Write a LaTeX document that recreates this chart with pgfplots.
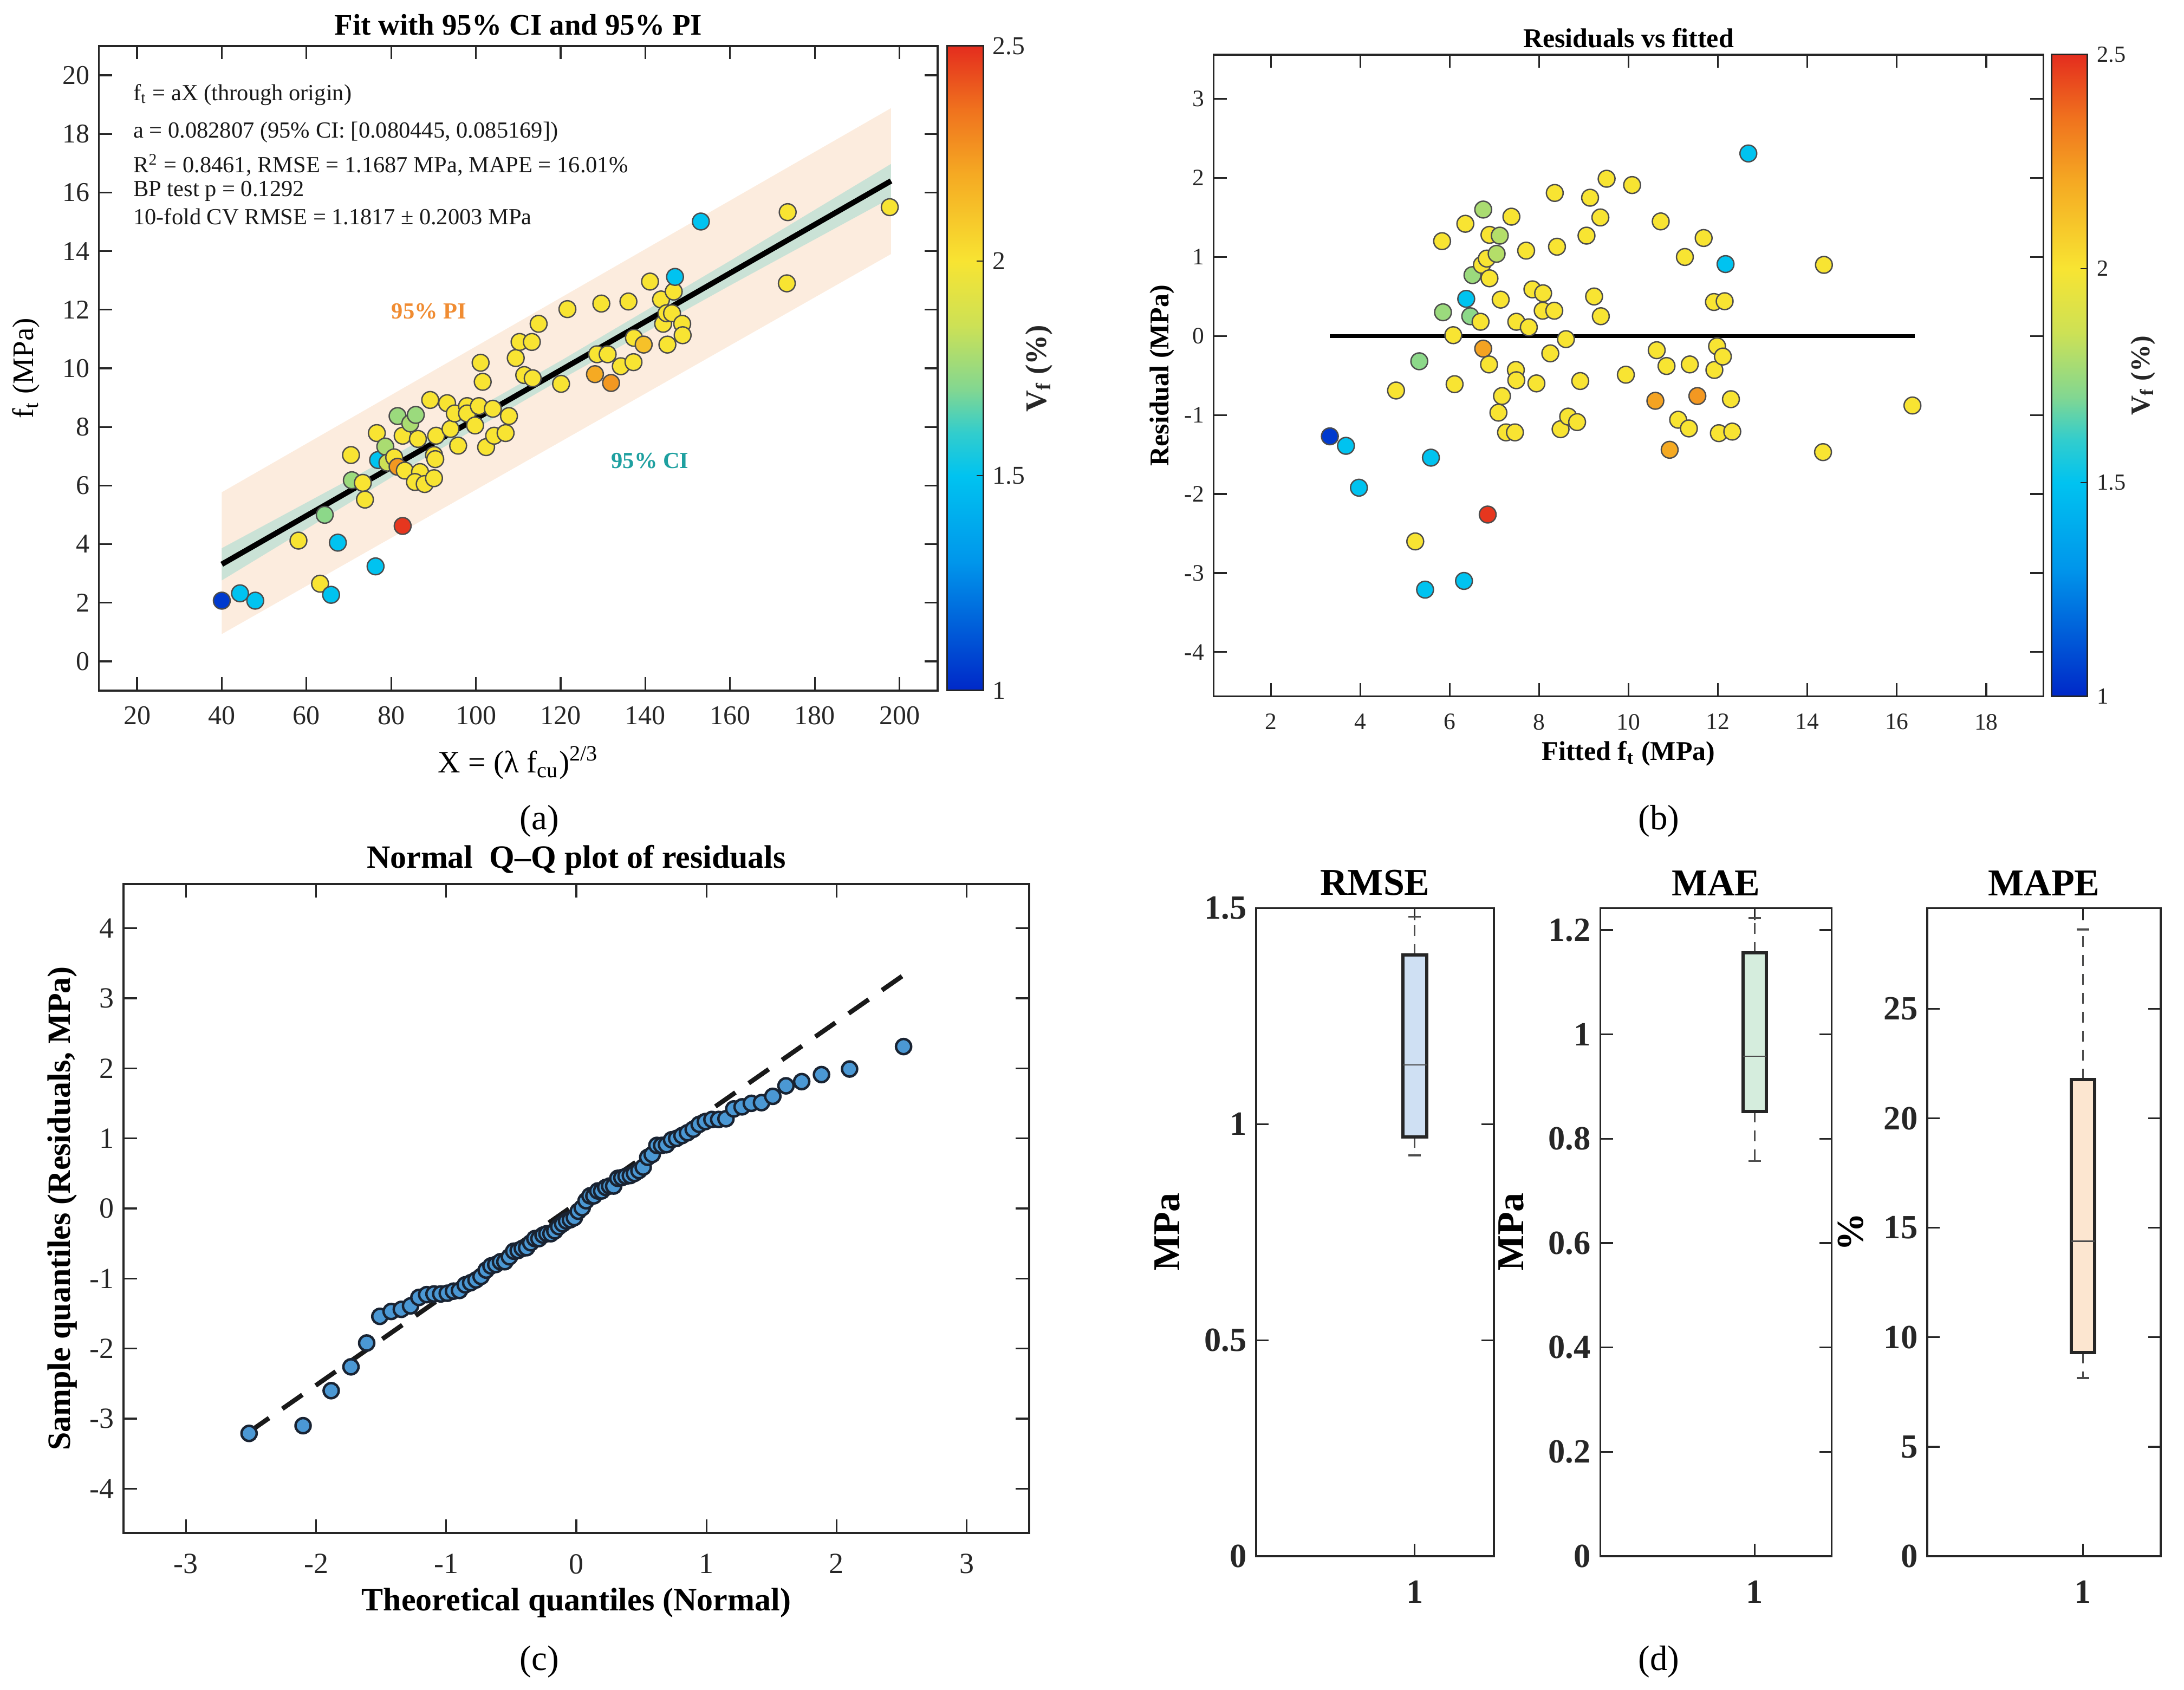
\documentclass[border=0pt]{standalone}
\usepackage{fontspec}
\setmainfont{Liberation Serif}
\usepackage{pgfplots}
\usepackage{pgfplotstable}
\pgfplotsset{compat=1.18}
\usepgfplotslibrary{statistics}
\pgfplotsset{/pgf/number format/assume math mode=true}

\definecolor{axgray}{RGB}{38,38,38}
\definecolor{pifill}{RGB}{252,236,222}
\definecolor{cifill}{RGB}{202,226,214}
\definecolor{pitext}{RGB}{240,140,50}
\definecolor{citext}{RGB}{30,160,160}
\definecolor{qqfill}{RGB}{75,152,212}
\definecolor{qqedge}{RGB}{25,35,50}
\definecolor{rmsefill}{RGB}{207,224,243}
\definecolor{maefill}{RGB}{213,237,221}
\definecolor{mapefill}{RGB}{252,230,208}

\newcommand{\fs}[1]{\fontsize{#1}{#1}\selectfont}

\pgfplotsset{
  colormap={vfmap}{[1pt] rgb255(0pt)=(0,40,200); rgb255(6pt)=(0,150,235); rgb255(10pt)=(0,195,240); rgb255(12pt)=(50,205,205); rgb255(14pt)=(130,215,145); rgb255(17pt)=(205,225,85); rgb255(20pt)=(248,228,50); rgb255(24pt)=(245,170,35); rgb255(27pt)=(240,115,30); rgb255(30pt)=(228,45,30)},
  mybase/.style={
    scale only axis,
    axis line style={line width=0.65pt, draw=axgray},
    every tick/.style={line width=0.65pt, draw=axgray},
    major tick length=4.9pt,
    tick align=inside,
    minor tick num=0,
    ticklabel style={text=axgray},
    clip=false,
  },
}

\pgfplotstableread{
x y c
40.0 2.07 1.05
44.3 2.32 1.5
47.9 2.07 1.5
58.1 4.12 2.0
63.2 2.65 2.0
64.3 5.00 1.72
65.8 2.27 1.5
67.4 4.05 1.5
70.5 7.04 2.0
70.7 6.18 1.75
73.3 6.09 2.0
73.8 5.52 2.0
76.3 3.24 1.5
76.6 7.79 2.0
76.9 6.87 1.5
78.6 7.33 1.78
79.1 6.78 1.85
80.7 6.96 2.0
81.5 6.64 2.25
81.5 8.37 1.75
82.7 4.62 2.48
82.7 7.70 2.0
83.2 6.51 2.0
84.5 8.12 1.78
85.8 8.41 1.75
86.3 7.59 2.0
86.8 6.46 2.0
85.6 6.12 2.0
87.9 6.05 2.0
89.2 8.92 2.0
90.1 7.04 2.0
90.1 6.25 2.0
90.6 7.70 2.0
90.4 6.90 2.0
93.2 8.81 2.0
94.0 7.93 2.0
95.0 8.46 2.0
95.8 7.36 2.0
97.9 8.71 2.0
97.9 8.46 2.0
99.8 8.05 2.0
100.7 8.71 2.0
101.1 10.19 2.0
101.6 9.54 2.0
102.4 7.31 2.0
104.0 8.62 2.0
104.3 7.70 2.0
107.0 7.79 2.0
107.8 8.37 2.0
109.4 10.35 2.0
110.3 10.90 2.0
111.4 9.77 2.0
113.2 10.90 2.0
113.4 9.66 2.0
114.8 11.52 2.0
120.1 9.47 2.0
121.6 12.02 2.0
128.1 9.80 2.2
128.6 10.48 2.0
129.6 12.21 2.0
131.1 10.48 2.0
131.9 9.50 2.25
134.2 10.07 2.0
136.0 12.28 2.0
137.2 10.21 2.0
137.3 11.04 2.0
139.6 10.81 2.12
141.1 12.96 2.0
143.7 12.35 2.0
144.2 11.52 2.0
145.0 11.88 2.0
145.2 10.81 2.0
146.3 11.88 2.0
146.7 12.62 2.0
147.0 13.12 1.5
148.7 11.52 2.0
148.8 11.13 2.0
153.1 15.01 1.5
173.4 12.90 2.0
173.6 15.33 2.0
197.7 15.50 2.0
}\dataA

\pgfplotstableread{
x y c
3.32 -1.27 1.05
3.68 -1.39 1.5
3.97 -1.92 1.5
4.80 -0.69 2.0
5.23 -2.60 2.0
5.32 -0.32 1.72
5.45 -3.21 1.5
5.58 -1.54 1.5
5.83 1.20 2.0
5.85 0.30 1.75
6.08 0.01 2.0
6.11 -0.61 2.0
6.32 -3.10 1.5
6.35 1.42 2.0
6.37 0.47 1.5
6.46 0.25 1.72
6.51 0.77 1.75
6.69 0.18 2.0
6.72 0.90 2.0
6.75 1.60 1.78
6.75 -0.16 2.22
6.83 0.98 2.0
6.85 -2.26 2.48
6.88 -0.36 2.0
6.89 1.28 2.0
6.89 0.73 2.0
7.05 1.04 1.8
7.09 -0.97 2.0
7.12 1.27 1.8
7.14 0.46 2.0
7.17 -0.76 2.0
7.26 -1.22 2.0
7.38 1.51 2.0
7.46 -1.22 2.0
7.48 -0.43 2.0
7.49 -0.56 2.0
7.49 0.18 2.0
7.71 1.08 2.0
7.77 0.11 2.0
7.85 0.59 2.0
7.94 -0.60 2.0
8.09 0.54 2.0
8.08 0.32 2.0
8.25 -0.22 2.0
8.34 0.32 2.0
8.35 1.81 2.0
8.40 1.13 2.0
8.48 -1.18 2.0
8.60 -0.04 2.0
8.65 -1.02 2.0
8.85 -1.09 2.0
8.92 -0.57 2.0
9.06 1.27 2.0
9.14 1.75 2.0
9.23 0.50 2.0
9.37 1.50 2.0
9.38 0.25 2.0
9.51 1.99 2.0
9.94 -0.49 2.0
10.08 1.91 2.0
10.60 -0.82 2.22
10.63 -0.18 2.0
10.72 1.45 2.0
10.85 -0.38 2.0
10.92 -1.44 2.2
11.11 -1.06 2.0
11.26 1.00 2.0
11.37 -0.36 2.0
11.35 -1.17 2.0
11.54 -0.76 2.25
11.68 1.24 2.0
11.91 0.43 2.0
11.92 -0.43 2.0
11.98 -0.13 2.0
12.02 -1.23 2.0
12.11 -0.26 2.0
12.15 0.44 2.0
12.17 0.91 1.5
12.29 -0.80 2.0
12.32 -1.21 2.0
12.68 2.31 1.5
14.37 0.90 2.0
14.35 -1.47 2.0
16.35 -0.88 2.0
}\dataB

\pgfplotstableread{
z r
-2.515 -3.21
-2.100 -3.10
-1.884 -2.60
-1.732 -2.26
-1.611 -1.92
-1.510 -1.54
-1.423 -1.47
-1.345 -1.44
-1.274 -1.39
-1.210 -1.27
-1.150 -1.23
-1.094 -1.22
-1.042 -1.22
-0.992 -1.21
-0.944 -1.18
-0.898 -1.17
-0.854 -1.09
-0.812 -1.06
-0.771 -1.02
-0.732 -0.97
-0.693 -0.88
-0.656 -0.82
-0.619 -0.80
-0.583 -0.76
-0.549 -0.76
-0.514 -0.69
-0.481 -0.61
-0.447 -0.60
-0.415 -0.57
-0.382 -0.56
-0.350 -0.49
-0.319 -0.43
-0.287 -0.43
-0.256 -0.38
-0.226 -0.36
-0.195 -0.36
-0.165 -0.32
-0.135 -0.26
-0.105 -0.22
-0.075 -0.18
-0.045 -0.16
-0.015 -0.13
0.015 -0.04
0.045 0.01
0.075 0.11
0.105 0.18
0.135 0.18
0.165 0.25
0.195 0.25
0.226 0.30
0.256 0.32
0.287 0.32
0.319 0.43
0.350 0.44
0.382 0.46
0.415 0.47
0.447 0.50
0.481 0.54
0.514 0.59
0.549 0.73
0.583 0.77
0.619 0.90
0.656 0.90
0.693 0.91
0.732 0.98
0.771 1.00
0.812 1.04
0.854 1.08
0.898 1.13
0.944 1.20
0.992 1.24
1.042 1.27
1.094 1.27
1.150 1.28
1.210 1.42
1.274 1.45
1.345 1.50
1.423 1.51
1.510 1.60
1.611 1.75
1.732 1.81
1.884 1.91
2.100 1.99
2.515 2.31
}\dataC

\begin{document}
\begin{tikzpicture}
\path[use as bounding box] (0,0) rectangle (806.4pt,624pt);

% ---------------- (a) ----------------
\begin{axis}[mybase,
  at={(36.54pt,369pt)}, anchor=south west,
  width=309.66pt, height=238pt,
  xmin=11, xmax=209, ymin=-1, ymax=21,
  xtick={20,40,...,200}, ytick={0,2,...,20},
  ticklabel style={font=\fs{10}},
  xticklabel style={yshift=-2.3pt},
  title={Fit with 95\% CI and 95\% PI},
  title style={font=\fs{11}\bfseries, at={(axis description cs:0.5,1.0328)}, anchor=center, yshift=-6pt},
  xlabel={X = (λ f\textsubscript{cu})\textsuperscript{2/3}},
  xlabel style={font=\fs{11.5}, at={(axis description cs:0.5,-0.1122)}, anchor=center},
  ylabel={f\textsubscript{t} (MPa)},
  ylabel style={font=\fs{11}, at={(axis description cs:-0.0867,0.5)}, anchor=center},
  colormap name=vfmap,
  point meta min=1, point meta max=2.5,
  colorbar,
  colorbar style={
    scale only axis, width=13.4pt, height=238pt,
    at={(parent axis.north east)}, anchor=north west, xshift=-5.08pt,
    ytick={1,1.5,2,2.5},
    ytick pos=right, yticklabel pos=right,
    tick align=inside,
    yticklabel style={font=\fs{9.5}, text=axgray},
    major tick length=2.5pt,
    every tick/.style={line width=0.4pt, draw=axgray},
    axis line style={line width=0.6pt, draw=axgray},
  },
]
\addplot[fill=pifill, draw=none] coordinates {(40,0.93) (198,13.90) (198,18.88) (40,5.77)} -- cycle;
\addplot[fill=cifill, draw=none] coordinates {(40,3.86) (80,6.975) (120,10.257) (160,13.669) (198,16.976) (198,15.816) (160,12.829) (120,9.617) (80,6.275) (40,2.762)} -- cycle;
\addplot[black, line width=2pt] coordinates {(40,3.312) (198,16.396)};
\addplot[scatter, only marks, mark=*, mark size=3.1pt, scatter src=explicit,
  scatter/use mapped color={draw=black!70, fill=mapped color},
  mark options={line width=0.5pt}] table[x=x,y=y,meta=c]{\dataA};
\node[anchor=west, inner sep=0pt, font=\fs{8.5}, text=black!90] at (axis cs:19,19.33) {f\textsubscript{t} = aX (through origin)};
\node[anchor=west, inner sep=0pt, font=\fs{8.5}, text=black!90] at (axis cs:19,18.05) {a = 0.082807 (95\% CI: [0.080445, 0.085169])};
\node[anchor=west, inner sep=0pt, font=\fs{8.5}, text=black!90] at (axis cs:19,16.94) {R\textsuperscript{2} = 0.8461, RMSE = 1.1687 MPa, MAPE = 16.01\%};
\node[anchor=west, inner sep=0pt, font=\fs{8.5}, text=black!90] at (axis cs:19,16.05) {BP test p = 0.1292};
\node[anchor=west, inner sep=0pt, font=\fs{8.5}, text=black!90] at (axis cs:19,15.17) {10-fold CV RMSE = 1.1817 ± 0.2003 MPa};
\node[font=\fs{8.5}\bfseries, text=pitext] at (axis cs:88.9,11.94) {95\% PI};
\node[font=\fs{8.5}\bfseries, text=citext] at (axis cs:141.1,6.84) {95\% CI};
\node[rotate=90, font=\fs{11}\bfseries, text=axgray] at (axis description cs:1.1208,0.5) {V\textsubscript{f} (\%)};
\end{axis}

% ---------------- (b) ----------------
\begin{axis}[mybase,
  at={(448.1pt,366.9pt)}, anchor=south west,
  width=306.4pt, height=236.9pt,
  xmin=0.72, xmax=19.28, ymin=-4.56, ymax=3.56,
  xtick={2,4,...,18}, ytick={-4,-3,...,3},
  ticklabel style={font=\fs{8.7}},
  xticklabel style={yshift=-3pt},
  title={Residuals vs fitted},
  title style={font=\fs{10}\bfseries, at={(axis description cs:0.5,1.0262)}, anchor=center, yshift=-6pt},
  xlabel={Fitted f\textsubscript{t} (MPa)},
  xlabel style={font=\fs{10}\bfseries, at={(axis description cs:0.5,-0.0891)}, anchor=center},
  ylabel={Residual (MPa)},
  ylabel style={font=\fs{10}\bfseries, at={(axis description cs:-0.0623,0.5)}, anchor=center},
  colormap name=vfmap,
  point meta min=1, point meta max=2.5,
  colorbar,
  colorbar style={
    scale only axis, width=13.2pt, height=236.9pt,
    at={(parent axis.north east)}, anchor=north west, xshift=-5.54pt,
    ytick={1,1.5,2,2.5},
    ytick pos=right, yticklabel pos=right,
    tick align=inside,
    yticklabel style={font=\fs{8.5}, text=axgray},
    major tick length=2.5pt,
    every tick/.style={line width=0.4pt, draw=axgray},
    axis line style={line width=0.6pt, draw=axgray},
  },
]
\addplot[black, line width=1.3pt] coordinates {(3.32,0) (16.40,0)};
\addplot[scatter, only marks, mark=*, mark size=3.1pt, scatter src=explicit,
  scatter/use mapped color={draw=black!70, fill=mapped color},
  mark options={line width=0.5pt}] table[x=x,y=y,meta=c]{\dataB};
\node[rotate=90, font=\fs{10}\bfseries, text=axgray] at (axis description cs:1.1198,0.5) {V\textsubscript{f} (\%)};
\end{axis}

% ---------------- (c) ----------------
\begin{axis}[mybase,
  at={(45.6pt,58pt)}, anchor=south west,
  width=334.4pt, height=239.6pt,
  xmin=-3.48, xmax=3.48, ymin=-4.63, ymax=4.63,
  xtick={-3,-2,...,3}, ytick={-4,-3,...,4},
  ticklabel style={font=\fs{10.8}},
  xticklabel style={yshift=-4.3pt},
  title={Normal\ \ Q–Q plot of residuals},
  title style={font=\fs{12}\bfseries, at={(axis description cs:0.5,1.0367)}, anchor=center, yshift=-6pt},
  xlabel={Theoretical quantiles (Normal)},
  xlabel style={font=\fs{12}\bfseries, at={(axis description cs:0.5,-0.1077)}, anchor=center},
  ylabel={Sample quantiles (Residuals, MPa)},
  ylabel style={font=\fs{12}\bfseries, at={(axis description cs:-0.0676,0.5)}, anchor=center},
]
\addplot[black!90, line width=1.7pt, dash pattern=on 9pt off 6pt] coordinates {(-2.515,-3.19) (2.515,3.33)};
\addplot[only marks, mark=*, mark size=2.8pt, mark options={fill=qqfill, draw=qqedge, line width=0.9pt}] table[x=z,y=r]{\dataC};
\end{axis}

% ---------------- (d) ----------------
\pgfplotsset{
  boxax/.style={mybase,
    anchor=south west, height=239.3pt,
    xmin=0, xmax=1.5, ymin=0,
    xtick={1},
    major tick length=4.6pt,
    ticklabel style={font=\fs{12.5}\bfseries},
    xticklabel style={yshift=-5.5pt},
    title style={font=\fs{14}\bfseries, at={(axis description cs:0.5,1.0389)}, anchor=center, yshift=-6pt},
    ylabel style={font=\fs{14}\bfseries, anchor=center},
  },
  boxst/.style={draw=axgray, line width=1.2pt,
    boxplot/draw direction=y,
    boxplot/every median/.style={line width=0.5pt, draw=black!70},
    boxplot/every whisker/.style={line width=0.6pt, draw=black!70, dash pattern=on 4pt off 3pt}},
  capst/.style={black!70, line width=0.7pt},
}
\begin{axis}[boxax,
  at={(463.8pt,49.4pt)}, width=87.8pt,
  ymax=1.5, ytick={0,0.5,1,1.5},
  title={RMSE},
  ylabel={MPa}, ylabel style={at={(axis description cs:-0.3736,0.5)}},
]
\addplot[boxst, fill=rmsefill, boxplot prepared={median=1.137, upper quartile=1.392, lower quartile=0.970, upper whisker=1.480, lower whisker=0.928, draw position=1, box extend=0.15, whisker extend=0}] coordinates {};
\addplot[capst] coordinates {(0.96,1.480) (1.04,1.480)};
\addplot[capst] coordinates {(0.96,0.928) (1.04,0.928)};
\end{axis}

\begin{axis}[boxax,
  at={(590.9pt,49.4pt)}, width=85.4pt,
  ymax=1.242, ytick={0,0.2,...,1.2},
  title={MAE},
  ylabel={MPa}, ylabel style={at={(axis description cs:-0.385,0.5)}},
]
\addplot[boxst, fill=maefill, boxplot prepared={median=0.958, upper quartile=1.156, lower quartile=0.852, upper whisker=1.223, lower whisker=0.757, draw position=1, box extend=0.15, whisker extend=0}] coordinates {};
\addplot[capst] coordinates {(0.96,1.223) (1.04,1.223)};
\addplot[capst] coordinates {(0.96,0.757) (1.04,0.757)};
\end{axis}

\begin{axis}[boxax,
  at={(711.6pt,49.4pt)}, width=86.2pt,
  ymax=29.6, ytick={0,5,...,25},
  title={MAPE},
  ylabel={\%}, ylabel style={at={(axis description cs:-0.329,0.5)}},
]
\addplot[boxst, fill=mapefill, boxplot prepared={median=14.39, upper quartile=21.76, lower quartile=9.30, upper whisker=28.62, lower whisker=8.14, draw position=1, box extend=0.15, whisker extend=0}] coordinates {};
\addplot[capst] coordinates {(0.96,28.62) (1.04,28.62)};
\addplot[capst] coordinates {(0.96,8.14) (1.04,8.14)};
\end{axis}

% subfigure labels
\node[font=\fs{13}] at (199.2pt,320.9pt) {(a)};
\node[font=\fs{13}] at (612.5pt,320.9pt) {(b)};
\node[font=\fs{13}] at (199.2pt,10.4pt) {(c)};
\node[font=\fs{13}] at (612.5pt,10.4pt) {(d)};
\end{tikzpicture}
\end{document}
